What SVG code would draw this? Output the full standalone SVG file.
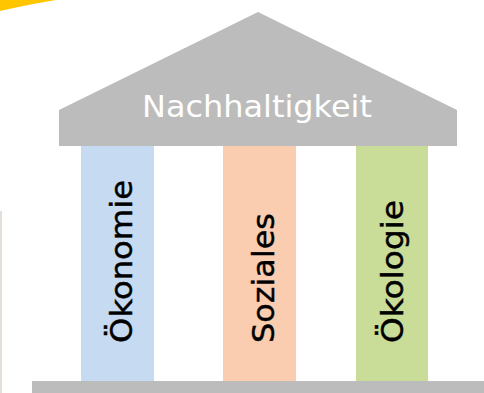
<svg xmlns="http://www.w3.org/2000/svg" width="484" height="393" viewBox="0 0 484 393">
  <style>
    .lbl { font-family: "DejaVu Sans", "Liberation Sans", sans-serif; font-size: 30px; }
    .roofText { fill: #FFFFFF; }
    .pillarText { fill: #000000; stroke: #000000; stroke-width: 0.45px; }
  </style>
  <rect width="484" height="393" fill="#FFFFFF"/>
  <path d="M0,0 L56,0 Q26,5 0,11 Z" fill="#FFC600"/>
  <rect x="0" y="211" width="2" height="182" fill="#E3DED7"/>
  <g id="roof">
    <polygon points="59,110 258,12 457,110 457,146 59,146" fill="#BBBCBB"/>
    <text class="lbl roofText" x="257" y="117" text-anchor="middle" textLength="230" lengthAdjust="spacingAndGlyphs">Nachhaltigkeit</text>
  </g>
  <g id="pillar-oekonomie">
    <rect x="81" y="146" width="73" height="235" fill="#C6DAF1"/>
    <text class="lbl pillarText" transform="translate(132,343) rotate(-90)" textLength="163" lengthAdjust="spacingAndGlyphs">Ökonomie</text>
  </g>
  <g id="pillar-soziales">
    <rect x="223" y="146" width="73" height="235" fill="#FACDB0"/>
    <text class="lbl pillarText" transform="translate(274,343) rotate(-90)" textLength="130" lengthAdjust="spacingAndGlyphs">Soziales</text>
  </g>
  <g id="pillar-oekologie">
    <rect x="356" y="146" width="72" height="235" fill="#C9DD99"/>
    <text class="lbl pillarText" transform="translate(403,343) rotate(-90)" textLength="143" lengthAdjust="spacingAndGlyphs">Ökologie</text>
  </g>
  <g id="base">
    <rect x="32" y="381" width="452" height="12" fill="#BBBCBB"/>
  </g>
  <g id="connectors"/>
</svg>
